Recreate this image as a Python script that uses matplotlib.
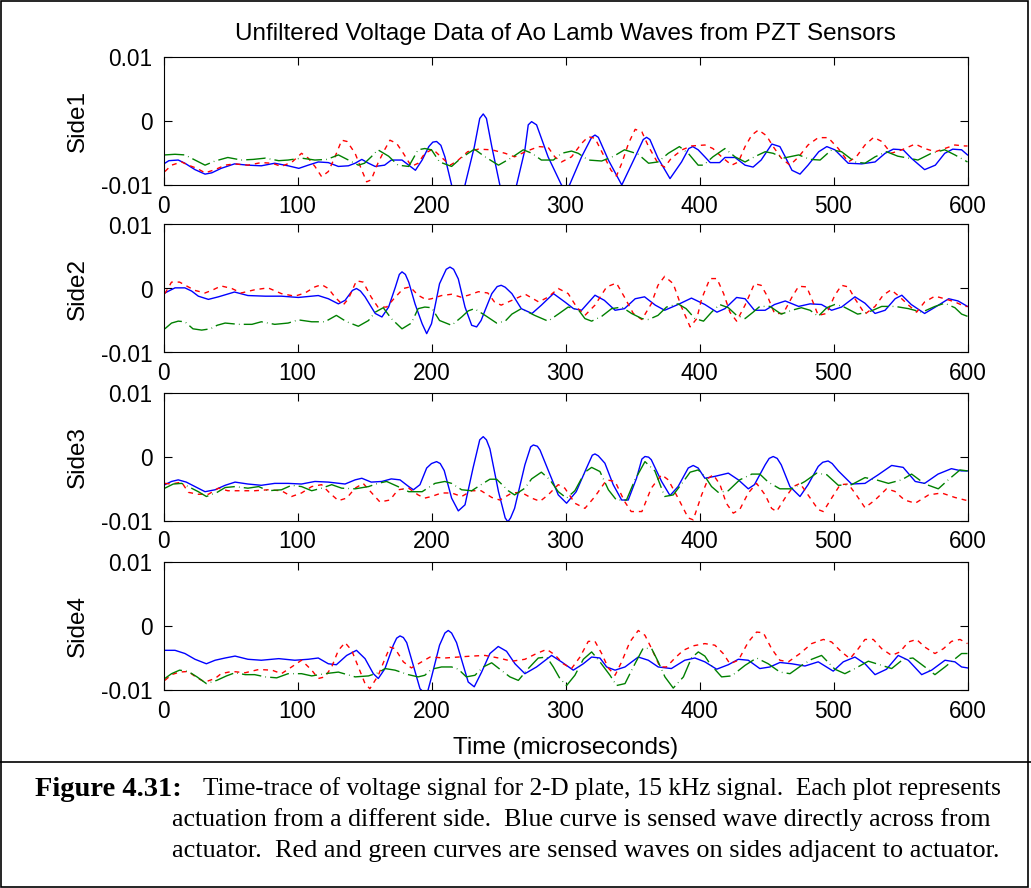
import matplotlib
matplotlib.use('Agg')
import matplotlib.pyplot as plt
import numpy as np
from matplotlib.lines import Line2D
from matplotlib.patches import Rectangle

# ---------------- data (time in microseconds, voltage in units of 1e-3 V) ----------------
VOLT_SCALE = 1e-3

side1_blue = [(1,-6.6),(4,-6.2),(11,-6.1),(16,-6.6),(23.5,-7.6),(31,-8.3),(36,-8.1),(43,-7.4),(53,-6.7),(63,-6.9),
              (73,-7.0),(83,-6.6),(93,-7.0),(101,-7.4),(108,-6.9),(115.5,-6.4),(123,-6.5),(130.5,-7.1),(138,-7.0),
              (143,-6.6),(148,-6.0),(153,-6.6),(158,-7.1),(165,-6.9),(170,-6.1),(178,-6.1),(183,-6.9),(188,-7.7),
              (193,-6.1),(198,-4.0),(201,-3.3),(203.8,-3.2),(207,-3.8),(210,-5.6),(215,-10.0),(220,-13.0),(225,-10.0),
              (232,-4.0),(236,0.4),(238.6,1.1),(241,0.4),(245,-4.0),(251,-10.0),(257,-13.0),(263.5,-10.0),
              (269.7,-4.5),(272.2,-0.6),(274.7,-0.1),(278.4,-0.6),(287,-5.6),(297,-10.0),(300,-10.5),(303,-10.0),
              (312,-5.6),(319.5,-2.55),(322,-2.2),(324.5,-2.55),(332,-6.1),(342,-10.0),(352,-5.6),(358,-2.9),
              (360.5,-2.55),(363,-2.9),(369,-5.8),(378,-9.0),(386.6,-6.4),(392,-4.3),(395,-4.0),(399,-4.5),(404,-5.6),
              (408,-6.5),(415,-6.5),(419,-5.7),(426.5,-5.7),(434,-6.9),(440,-7.2),(446,-6.1),(454,-3.6),(460,-4.0),
              (464,-5.6),(469,-7.7),(475,-8.3),(481,-6.9),(489,-4.8),(495,-4.0),(501,-4.5),(511,-6.6),(521,-6.7),
              (531,-6.4),(538.5,-5.05),(544.6,-4.4),(552,-4.5),(558,-5.8),(568,-7.6),(576,-6.9),(583,-5.05),
              (589,-4.4),(595.6,-4.5),(600,-5.3)]
side1_red = [(1,-7.9),(6,-6.9),(13.5,-6.4),(18.5,-6.9),(25,-7.4),(31,-8.1),(38.5,-7.6),(46,-6.9),(53,-6.7),(63,-6.9),
             (73,-6.5),(81,-6.6),(88,-7.1),(96,-6.4),(103,-5.05),(108,-5.8),(113,-7.1),(118,-8.7),(123,-7.9),
             (128,-5.6),(133,-3.0),(137,-3.2),(143,-5.05),(148,-7.7),(151.6,-9.5),(155,-9.2),(160,-6.6),(165,-4.5),
             (169,-3.0),(174,-3.5),(179,-5.05),(185,-7.1),(190,-6.6),(195,-5.05),(201,-4.4),(207,-5.6),(214,-6.9),
             (220,-6.1),(227,-4.8),(235,-4.4),(245,-4.5),(255,-5.05),(262,-5.6),(270,-4.8),(280,-4.0),(287,-4.1),
             (292,-5.6),(297,-6.4),(304.5,-5.6),(312,-3.5),(317,-2.45),(322,-2.7),(329,-5.6),(334,-7.7),(338,-8.6),
             (342,-6.6),(347,-3.5),(352,-1.3),(357,-1.7),(362,-4.0),(369,-6.6),(374,-7.2),(379,-5.8),(387,-4.5),
             (394,-3.9),(404,-3.75),(410,-4.3),(416.5,-5.6),(424,-6.9),(429,-6.4),(434,-4.0),(439,-2.2),(444,-1.4),
             (450,-2.3),(455,-4.0),(461,-5.8),(467.5,-6.9),(474,-5.6),(481,-3.75),(488.6,-2.6),(496,-2.6),
             (503.6,-4.3),(511,-6.4),(517,-5.6),(523.5,-3.75),(530,-2.55),(536,-3.2),(543,-5.05),(551,-4.5),
             (561,-3.6),(568,-4.3),(576,-4.8),(583,-4.3),(590.6,-3.75),(598,-3.9),(600,-3.9)]
side1_green = [(1,-5.3),(8.6,-5.2),(16,-5.3),(23.5,-6.1),(31,-6.9),(38.5,-6.25),(48,-5.7),(58,-6.1),(67,-6.0),
               (76,-5.8),(86,-6.2),(93,-6.1),(103,-5.8),(113,-6.1),(122,-6.0),(130.5,-5.3),(138,-6.1),(145.4,-6.9),
               (150,-6.6),(155,-5.6),(160,-4.5),(168,-5.5),(175,-6.9),(183,-7.1),(190,-4.5),(195,-4.3),(200,-4.5),
               (206,-6.4),(215,-7.1),(222,-5.8),(232,-4.4),(240,-5.6),(250,-6.9),(260,-5.7),(268.5,-4.5),(275,-5.05),
               (282,-6.1),(291,-6.1),(297,-5.05),(304.5,-4.7),(309.5,-5.05),(317,-6.1),(327,-6.25),(336,-5.5),
               (344,-4.5),(354,-5.15),(362,-6.6),(369,-6.4),(376.7,-5.05),(385,-4.0),(391.6,-5.05),(399,-6.9),
               (403,-6.9),(410,-5.6),(419,-4.3),(426.5,-5.6),(434,-6.4),(441,-5.6),(449,-4.8),(455,-5.05),
               (462.5,-5.8),(474,-5.3),(482.5,-6.0),(490,-6.1),(498.6,-4.5),(506,-4.8),(516,-6.4),(523.5,-6.6),
               (531,-5.6),(539.6,-4.8),(548,-5.5),(556,-5.8),(563,-6.1),(573,-5.05),(583,-4.5),(590.6,-5.3),
               (600,-6.4)]

side2_blue = [(1,-0.7),(8.6,0.1),(16,0.1),(21,-0.4),(26,-1.2),(33.5,-1.7),(41,-1.3),(53,-0.55),(63,-1.1),(76,-1.2),
              (88,-1.2),(100.6,-1.4),(115.5,-1.1),(123,-1.6),(130.5,-2.4),(135.5,-1.85),(141,-0.3),(144,0.0),
              (147,-0.4),(150.4,-1.3),(158,-3.9),(163,-4.45),(168,-2.9),(173,0.2),(176,2.2),(178,2.6),(180.5,2.2),
              (183,1.0),(187.7,-2.4),(193,-5.5),(196.4,-7.05),(200,-5.5),(206,0.75),(211,3.0),(213.8,3.35),
              (216.5,3.0),(220,1.5),(225,-2.9),(230,-5.75),(233.7,-6.0),(237,-5.0),(240,-3.4),(245,-0.8),(249,0.3),
              (252,0.5),(255,0.2),(260,-0.8),(267,-3.15),(275,-3.9),(282,-2.6),(291,-0.8),(299.5,-2.1),(306,-3.15),
              (312,-3.4),(322,-1.05),(329,-1.85),(337,-3.4),(344,-3.15),(352,-1.6),(359,-1.3),(367,-2.6),(374,-3.4),
              (384,-2.5),(394,-1.5),(404,-2.5),(413,-3.7),(419,-3.15),(427.7,-1.4),(434,-1.6),(441,-3.4),(449,-3.4),
              (456,-2.5),(464,-1.95),(474,-2.8),(482.5,-2.4),(491,-2.5),(498.6,-3.4),(506,-2.9),(516,-1.3),
              (523.5,-2.3),(531,-3.9),(538.5,-3.4),(546,-1.6),(551,-1.05),(558,-2.5),(568,-3.9),(576,-2.9),
              (586,-1.6),(593,-1.95),(600,-2.8)]
side2_red = [(1,-0.8),(6,1.0),(12,1.0),(18.5,0.25),(23.5,-0.3),(31,-0.7),(37,-0.2),(43,0.4),(51,0.0),(58,-0.7),
             (68,-0.2),(78,0.1),(88,-0.8),(98,-1.2),(105.6,-0.7),(113,0.25),(118,0.6),(123,0.0),(128,-1.35),(134,-2.6),
             (138,-1.6),(144,1.2),(149,1.0),(155,-1.35),(160,-2.9),(166.5,-2.9),(173,-1.35),(179,0.0),(184,0.25),
             (190,-1.05),(196,-1.75),(200,-1.6),(207.5,-1.1),(215,-0.9),(222,-1.35),(227.5,-1.05),(235,-0.5),
             (242,-0.7),(247,-2.1),(252,-2.6),(260,-1.85),(270,-0.9),(280,-2.1),(287,-1.35),(294.6,0.0),(302,-0.8),
             (308.3,-2.9),(314.5,-4.2),(322,-2.6),(330.7,0.25),(338,0.85),(344,-1.35),(350.6,-3.9),(357,-4.85),
             (364,-2.4),(369,0.5),(374,1.9),(380.4,0.75),(386.6,-2.9),(393,-6.0),(398,-4.7),(401.6,-1.6),
             (407.8,1.55),(413,1.55),(418,-0.8),(422.7,-3.7),(427.7,-5.1),(434,-2.6),(441,0.75),(446,0.5),
             (451,-1.35),(456,-3.9),(462.5,-3.9),(469,-1.35),(474,0.35),(480,0.25),(483.7,-1.6),(488.6,-4.2),
             (494.9,-3.9),(501,-1.05),(506,0.5),(511,0.25),(516,-1.6),(523.5,-4.0),(531,-2.8),(537,-1.05),
             (543,-0.2),(549.6,-1.35),(556,-2.6),(562,-3.7),(568,-2.1),(575.7,-1.2),(583,-1.6),(590.6,-2.1),
             (598,-2.8),(600,-2.8)]
side2_green = [(1,-6.3),(6,-5.4),(11,-5.1),(16,-5.2),(22,-6.3),(28.5,-6.5),(35,-6.3),(40,-5.75),(46,-5.4),(56,-5.6),
               (66,-5.6),(73,-5.2),(83,-5.6),(93,-5.4),(100.6,-4.9),(110.6,-5.2),(120.5,-5.2),(129,-4.2),(136.7,-5.2),
               (145.4,-5.9),(153,-5.0),(158,-3.7),(164,-3.0),(170,-4.7),(178,-6.3),(185,-5.4),(190,-3.15),(195,-2.9),
               (200,-3.0),(206,-5.0),(215,-5.75),(222.5,-4.45),(227.4,-3.5),(232,-3.15),(240,-4.2),(248.6,-5.4),
               (255,-5.1),(260,-4.0),(267,-3.15),(277,-4.2),(287,-5.1),(294.6,-4.0),(302,-2.9),(309.5,-3.3),
               (314.5,-4.7),(319.5,-5.1),(327,-4.35),(334.4,-3.15),(342,-2.9),(349.3,-3.9),(357,-4.7),(362,-4.85),
               (369,-4.2),(375.4,-2.9),(384,-2.4),(390,-3.15),(396.6,-4.7),(403,-5.1),(409,-3.7),(415,-2.5),
               (421.5,-3.0),(427.7,-4.2),(434,-4.7),(440,-3.7),(445,-2.8),(452.6,-2.8),(461,-4.0),(469,-3.4),
               (476,-3.0),(482.5,-3.4),(488.6,-4.35),(495,-3.0),(501,-2.5),(507,-2.8),(518,-4.0),(526,-3.7),
               (536,-2.8),(546,-2.8),(556,-3.15),(566,-3.7),(575.7,-2.8),(583,-2.3),(590.6,-3.0),(595.6,-4.0),
               (600,-4.35)]

side3_blue = [(1,-4.4),(6,-3.9),(11,-3.65),(17,-4.0),(23.5,-4.7),(31,-5.5),(38.5,-5.2),(46,-4.5),(53.4,-4.0),(63,-4.3),
              (73,-4.5),(83,-4.2),(93,-4.2),(103,-4.3),(113,-3.9),(123,-4.0),(135.5,-4.3),(143,-3.65),(148,-3.4),
              (155,-4.0),(163,-3.9),(170,-3.5),(176.5,-3.65),(183,-4.7),(186.5,-5.2),(191.4,-4.4),(196.4,-1.8),
              (200,-1.1),(203.8,-0.8),(206.5,-1.1),(209.5,-2.2),(215,-6.5),(220,-8.5),(225,-7.55),(231,-1.8),
              (236,2.6),(238.6,3.1),(241,2.6),(243.6,1.2),(250,-5.5),(255,-9.6),(257,-10.2),(259,-9.6),(262,-8.1),
              (269.7,-1.3),(274,1.5),(276,1.8),(279,1.6),(281,1.0),(287,-2.1),(294.6,-6.0),(300.8,-7.3),(308,-5.5),
              (315.7,-1.8),(320,0.2),(322,0.4),(324.5,0.1),(329.4,-1.05),(335.6,-4.4),(341.9,-6.8),(346.8,-6.8),
              (353,-3.4),(357,-0.4),(359.3,0.0),(362,-0.1),(364,-0.5),(371.7,-3.9),(378,-6.1),(384,-4.7),
              (391.6,-1.8),(395.3,-1.4),(399,-1.8),(404,-3.4),(411.5,-3.1),(421.5,-2.6),(429,-3.65),(436.4,-5.05),
              (441,-4.4),(449,-1.3),(452,-0.3),(455,0.0),(458,-0.3),(461,-1.3),(467.5,-4.7),(475,-6.25),(481,-4.4),
              (488.6,-1.55),(492,-0.9),(496,-0.7),(499,-1.1),(503.6,-2.25),(513.5,-4.3),(523.5,-4.2),(533.4,-2.85),
              (543.4,-1.4),(552,-1.7),(561,-3.9),(568,-4.2),(578,-2.75),(588,-1.9),(595.6,-2.25),(600,-2.25)]
side3_red = [(1,-4.2),(6,-4.3),(13.5,-4.0),(18.5,-5.6),(26,-5.9),(33.5,-5.9),(41,-4.95),(48,-5.35),(58,-5.35),
             (68,-5.35),(78,-5.2),(88,-5.35),(95.6,-6.25),(103,-5.7),(110.6,-4.7),(118,-4.4),(124,-5.7),(130.5,-6.9),
             (136.7,-6.5),(143,-4.95),(149,-4.2),(155,-5.6),(161.5,-7.1),(169,-6.8),(175,-5.2),(183,-4.95),(190,-6.0),
             (195,-6.5),(200,-6.25),(207.5,-5.7),(215,-5.7),(222.5,-6.25),(230,-5.35),(237,-5.35),(245,-6.4),
             (251,-6.8),(260,-5.7),(267,-5.6),(274.7,-6.5),(281,-7.0),(287,-6.0),(294.6,-4.4),(299.5,-4.95),
             (307,-7.3),(314.5,-8.1),(322,-6.25),(330.7,-3.65),(337,-3.9),(344,-7.0),(349,-8.6),(357,-8.6),
             (364,-4.95),(371.7,-2.85),(376.7,-3.65),(384,-6.5),(391.6,-9.6),(395.3,-9.9),(401.6,-6.0),(406.6,-3.4),
             (410.3,-2.85),(415.3,-4.4),(420,-7.3),(425.2,-8.85),(430,-8.3),(436.4,-5.7),(442.6,-4.2),(449,-6.0),
             (453.8,-8.1),(457.5,-8.6),(463.8,-6.5),(470,-4.7),(475,-4.2),(481,-6.0),(488.6,-8.3),(492.4,-8.6),
             (498.6,-6.5),(505,-4.4),(511,-4.3),(517,-6.0),(523.5,-8.0),(531,-6.8),(539.6,-5.05),(545.8,-5.45),
             (553,-6.8),(561,-7.3),(571,-6.0),(580.7,-5.7),(590.6,-6.4),(600,-6.9)]
side3_green = [(1,-4.95),(7.3,-4.3),(13.5,-4.2),(18.5,-4.7),(26,-5.5),(32,-6.25),(40,-5.6),(46,-4.85),(53.4,-4.7),
               (63,-4.95),(71,-4.7),(78,-5.35),(88,-5.2),(95.6,-4.5),(103,-4.7),(110.6,-5.35),(118,-4.95),(125.5,-4.4),
               (133,-4.95),(143,-5.05),(153,-4.7),(160,-4.2),(166.5,-3.9),(175,-4.7),(183,-5.5),(193,-5.5),
               (202.6,-4.2),(210,-3.9),(215,-4.2),(222.5,-5.2),(230,-5.35),(237,-4.4),(243.6,-3.55),(248.6,-3.55),
               (257.3,-5.35),(262,-6.0),(269.7,-4.95),(274.7,-3.5),(282,-2.45),(288.4,-3.65),(294.6,-5.5),
               (300.8,-6.5),(307,-5.35),(314.5,-2.45),(319.5,-1.7),(325.7,-2.35),(332,-5.2),(338,-6.8),(345.5,-6.8),
               (351.8,-3.65),(359.3,-0.8),(366.7,-2.25),(374,-6.25),(380.4,-6.0),(388,-3.9),(393,-2.45),(399,-2.1),
               (404,-3.1),(409,-4.7),(414,-5.6),(421.5,-5.35),(430,-3.65),(439,-2.75),(445,-2.75),(451.3,-4.0),
               (460,-5.05),(468.7,-5.05),(478.7,-3.9),(487.4,-2.6),(495,-2.85),(503.6,-4.5),(513.5,-4.4),
               (523.5,-3.3),(532,-3.65),(541,-4.2),(550.8,-3.65),(558.3,-2.75),(568.3,-4.3),(578.2,-5.05),
               (585.6,-3.65),(594.4,-2.1),(600,-2.25)]

side4_blue = [(1,-3.8),(8.6,-3.8),(16,-4.3),(23.5,-5.2),(32,-5.9),(38.5,-5.35),(46,-5.0),(53.4,-4.7),(63,-5.2),
              (73,-5.35),(86,-5.1),(98,-5.35),(108,-5.2),(115.5,-5.0),(123,-5.9),(129,-6.05),(136.7,-4.6),(144,-3.8),
              (150.4,-5.1),(156.6,-7.45),(160.3,-8.2),(165.3,-6.65),(171.5,-3.0),(174,-1.9),(176.5,-1.55),
              (179,-1.8),(181.5,-2.6),(186.4,-6.15),(191.4,-9.8),(196.4,-10.8),(200,-8.0),(206,-3.0),(210,-1.1),
              (212.5,-0.7),(215,-1.1),(218.7,-2.6),(223.7,-6.15),(227.4,-8.75),(231.9,-9.5),(237.4,-7.2),
              (243.6,-4.3),(249.8,-3.2),(256,-3.95),(262.3,-5.9),(269.7,-7.45),(278.4,-6.4),(289.6,-4.6),(297,-5.6),
              (305.8,-6.9),(313.3,-5.9),(319.5,-4.85),(325.7,-5.0),(330.7,-6.4),(337,-6.9),(344.4,-6.4),
              (354.3,-4.85),(361.8,-5.35),(369.2,-6.4),(379,-6.65),(389,-5.35),(396.6,-5.0),(404,-5.6),(412.8,-6.75),
              (421.5,-6.05),(429,-5.2),(436.4,-5.35),(445,-6.65),(452.6,-6.4),(460,-5.7),(468.7,-5.9),(478.7,-6.25),
              (488.6,-5.6),(499.8,-7.05),(507.3,-5.6),(516,-4.85),(523.5,-5.9),(531,-7.6),(539.6,-6.75),
              (548.3,-4.6),(555.8,-5.35),(565.8,-7.6),(573.2,-6.9),(583.2,-5.35),(590.6,-5.6),(595.6,-6.4),
              (600,-6.55)]
side4_red = [(1,-8.5),(6,-7.6),(12,-7.2),(18.5,-7.1),(25,-8.1),(31,-8.75),(38.5,-8.2),(43,-7.45),(51,-7.1),(61,-7.3),
             (71,-6.8),(81,-6.9),(88,-7.45),(95.6,-6.4),(103,-5.35),(110.6,-6.9),(115.5,-8.2),(120.5,-7.95),
             (125.5,-6.4),(130.5,-3.8),(135.5,-2.6),(140.4,-3.8),(145.4,-6.4),(150.4,-9.0),(154,-9.8),(160.3,-7.7),
             (165.3,-5.1),(169,-3.3),(172.8,-3.55),(179,-5.6),(185,-6.55),(192.7,-5.6),(198.9,-4.85),(210,-5.0),
             (220,-4.85),(230,-4.7),(240,-4.6),(250,-5.0),(260,-5.5),(269.7,-5.2),(278.4,-4.3),(286,-3.65),
             (292,-4.5),(298.3,-5.9),(304.5,-6.65),(310.8,-4.85),(317,-2.4),(322,-2.4),(327,-4.3),(331.9,-6.55),
             (337,-7.7),(341.9,-5.6),(348,-2.5),(354.3,-0.7),(359.3,-1.45),(364.3,-3.55),(370.5,-6.4),(375.4,-6.4),
             (381.7,-5.0),(387.9,-3.8),(395.3,-3.1),(404,-2.75),(411.5,-3.0),(417.7,-4.3),(422.7,-5.9),(429,-5.35),
             (436.4,-2.5),(442.6,-0.95),(447.6,-1.05),(453.8,-3.55),(460,-5.35),(466.3,-5.6),(475,-4.3),
             (483.7,-2.75),(492.4,-2.1),(498.6,-2.5),(506,-4.05),(512.3,-5.1),(518.5,-3.55),(523.5,-2.1),
             (529.7,-2.1),(536,-3.55),(543.4,-4.6),(549.6,-4.05),(555.8,-2.5),(562,-2.1),(568.2,-3.3),(575.7,-4.3),
             (582,-3.55),(588.1,-2.4),(594.4,-2.1),(600,-2.75)]
side4_green = [(1,-8.2),(6,-7.45),(12,-6.9),(18.5,-7.1),(25,-7.95),(32,-9.0),(39.7,-8.5),(47,-7.8),(53.4,-7.3),
               (61,-7.6),(68,-7.6),(76,-7.95),(84.5,-8.1),(93,-7.45),(103,-7.45),(110.6,-7.8),(120.5,-7.45),
               (130.5,-7.2),(143,-7.95),(153,-7.8),(160.3,-7.3),(165.3,-6.65),(172.8,-6.9),(182.7,-7.6),(190,-7.95),
               (195,-7.7),(200,-6.75),(207.5,-6.4),(215,-6.4),(220,-6.75),(226,-7.95),(232.4,-7.7),(238.6,-6.4),
               (244.9,-5.75),(251,-6.75),(258.5,-7.95),(264.8,-8.5),(272.2,-6.65),(279.7,-5.0),(286,-4.85),
               (290.9,-6.4),(295.8,-8.2),(300.8,-9.3),(307,-7.7),(313.3,-5.2),(319.5,-4.05),(325.7,-5.6),
               (333.2,-7.7),(338.1,-9.3),(344.4,-9.0),(350.6,-6.4),(358,-3.45),(364.3,-3.55),(369.2,-5.6),
               (374.2,-7.95),(380.4,-9.7),(388,-7.95),(394,-5.0),(399.1,-4.05),(404,-4.7),(407.8,-5.9),(416.5,-7.95),
               (424,-7.8),(434,-6.15),(442.6,-5.0),(451.3,-5.9),(460,-7.2),(467.5,-7.45),(476.2,-6.15),(483.7,-5.2),
               (491.1,-4.6),(501,-6.75),(508.5,-7.45),(516,-6.65),(526,-5.5),(536,-6.15),(543.4,-6.65),(552,-5.2),
               (559.3,-5.0),(568.2,-6.4),(575.7,-7.6),(583.2,-6.4),(589.4,-5.35),(595.6,-4.3),(600,-4.3)]

panel_labels = ['Side1', 'Side2', 'Side3', 'Side4']
x_ticks = [0, 100, 200, 300, 400, 500, 600]
y_ticks = [-0.01, 0, 0.01]
y_tick_labels = ['-0.01', '0', '0.01']
title_text = 'Unfiltered Voltage Data of Ao Lamb Waves from PZT Sensors'
xlabel_text = 'Time (microseconds)'
caption_head = 'Figure 4.31:'
caption_lines = ['Time-trace of voltage signal for 2-D plate, 15 kHz signal.  Each plot represents',
                 'actuation from a different side.  Blue curve is sensed wave directly across from',
                 'actuator.  Red and green curves are sensed waves on sides adjacent to actuator.']

panels = [(side1_blue, side1_red, side1_green),
          (side2_blue, side2_red, side2_green),
          (side3_blue, side3_red, side3_green),
          (side4_blue, side4_red, side4_green)]

# ---------------- figure ----------------
plt.rcParams['font.family'] = ['Liberation Sans', 'DejaVu Sans']
W, H = 1031, 888
fig = plt.figure(figsize=(W / 100, H / 100), dpi=100)
fig.patch.set_facecolor('white')

ax_left, ax_width, ax_height = 163.5, 804, 128
ax_tops = [57, 224.5, 392.5, 562]
TICK_FS = 16.3
LABEL_FS = 17.5

axes = []
for i, (top, series) in enumerate(zip(ax_tops, panels)):
    ax = fig.add_axes([ax_left / W, 1 - (top + ax_height) / H, ax_width / W, ax_height / H])
    blue, red, green = [np.array(s, dtype=float) for s in series]
    ax.plot(blue[:, 0], blue[:, 1] * VOLT_SCALE, color='#0000ff', lw=1.0, ls='-',
            solid_joinstyle='round')
    ax.plot(red[:, 0], red[:, 1] * VOLT_SCALE, color='#ff0000', lw=1.0, ls=(0, (3.5, 3.5)))
    ax.plot(green[:, 0], green[:, 1] * VOLT_SCALE, color='#008000', lw=1.0, ls=(0, (14, 3, 0.5, 3)))
    ax.set_xlim(0, 600)
    ax.set_ylim(-0.01, 0.01)
    ax.set_xticks(x_ticks)
    ax.set_xticklabels([str(v) for v in x_ticks])
    ax.set_yticks(y_ticks)
    ax.set_yticklabels(y_tick_labels)
    ax.tick_params(direction='in', top=True, right=True, length=6, width=0.8,
                   labelsize=TICK_FS, colors='black')
    ax.tick_params(axis='x', pad=7)
    ax.tick_params(axis='y', pad=8)
    for sp in ax.spines.values():
        sp.set_linewidth(0.8)
    ax.set_ylabel(panel_labels[i], fontsize=LABEL_FS)
    ax.yaxis.set_label_coords(-0.093, 0.5)
    axes.append(ax)

axes[0].set_title(title_text, fontsize=LABEL_FS, pad=12)
axes[-1].set_xlabel(xlabel_text, fontsize=LABEL_FS, labelpad=10)

# borders
fig.add_artist(Rectangle((0.8 / W, 0.8 / H), 1 - 3.5 / W, 1 - 1.6 / H, transform=fig.transFigure,
                         fill=False, edgecolor='black', lw=1.2))
fig.add_artist(Line2D([0, 1], [1 - 762 / H, 1 - 762 / H], transform=fig.transFigure, color='black', lw=1.2))

# caption
serif = ['Liberation Serif', 'DejaVu Serif']
CFS = 18.4
fig.text(35 / W, 1 - 789 / H, caption_head, family=serif, weight='bold', fontsize=20.5, va='center', ha='left')
fig.text(203 / W, 1 - 789 / H, caption_lines[0], family=serif, fontsize=CFS - 0.2, va='center', ha='left')
fig.text(172 / W, 1 - 820 / H, caption_lines[1], family=serif, fontsize=CFS + 0.2, va='center', ha='left')
fig.text(172 / W, 1 - 851 / H, caption_lines[2], family=serif, fontsize=CFS + 0.5, va='center', ha='left')

fig.savefig('out.png', dpi=100)
